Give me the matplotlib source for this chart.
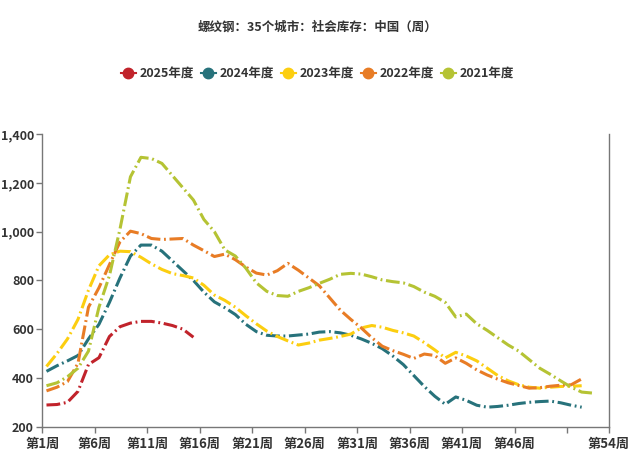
import matplotlib.pyplot as plt
import numpy as np

plt.rcParams['font.family'] = ['Noto Sans CJK SC', 'DejaVu Sans']

title = "螺纹钢：35个城市：社会库存：中国（周）"
series_names = ["2025年度", "2024年度", "2023年度", "2022年度", "2021年度"]
colors = ["#C1232B", "#27727B", "#FCCE10", "#E87C25", "#B5C334"]

# weekly values (week 1 onwards)
y2025 = [289, 291, 300, 345, 455, 483, 570, 610, 625, 632, 632, 625, 615, 600, 567]
y2024 = [427, 450, 470, 492, 560, 620, 710, 810, 900, 945, 945, 920, 880, 840, 800,
         752, 712, 688, 660, 620, 590, 575, 572, 572, 576, 580, 588, 590, 585, 575,
         560, 542, 520, 490, 455, 410, 365, 325, 292, 322, 308, 288, 280, 283, 288,
         295, 300, 303, 305, 298, 288, 280]
y2023 = [447, 500, 560, 640, 760, 860, 905, 920, 918, 895, 868, 845, 828, 820, 810,
         780, 740, 718, 690, 655, 622, 592, 570, 552, 535, 543, 555, 562, 570, 580,
         605, 615, 608, 595, 585, 572, 545, 515, 482, 505, 490, 470, 440, 410, 388,
         372, 362, 358, 362, 365, 366, 368]
y2022 = [347, 362, 385, 460, 690, 770, 865, 958, 1002, 992, 972, 968, 970, 972, 945,
         922, 898, 908, 885, 855, 830, 822, 840, 870, 842, 810, 778, 728, 678, 640,
         605, 565, 530, 512, 497, 480, 498, 492, 460, 482, 460, 433, 412, 395, 380,
         369, 358, 360, 366, 370, 372, 396]
y2021 = [368, 380, 405, 440, 510, 690, 820, 1010, 1225, 1305, 1300, 1280, 1230, 1180, 1130,
         1050, 1000, 925, 900, 850, 790, 755, 738, 735, 755, 770, 788, 805, 825, 829,
         826, 815, 802, 795, 790, 775, 752, 735, 710, 650, 662, 622, 595, 565, 535,
         510, 475, 440, 415, 388, 362, 342, 338]

tick_weeks = [1, 6, 11, 16, 21, 26, 31, 36, 41, 46, 51]
tick_labels = ["第1周", "第6周", "第11周", "第16周", "第21周", "第26周",
               "第31周", "第36周", "第41周", "第46周", ""]

fig = plt.figure(figsize=(6.35, 4.59), dpi=100)
ax = fig.add_axes([0.0666, 0.0704, 0.8924, 0.6373])

all_series = [y2025, y2024, y2023, y2022, y2021]
for name, vals, c in zip(series_names, all_series, colors):
    weeks = np.arange(1, len(vals) + 1)
    ax.plot(weeks, vals, color=c, lw=2.2, linestyle=(0, (4.5, 1.2, 0.6, 1.2)),
            label=name)

ax.set_xlim(0.6, 54.6)
ax.set_ylim(200, 1400)
ax.set_xticks([w - 0.4 for w in tick_weeks] + [54.6])
ax.set_xticklabels(tick_labels + ["第54周"])
ax.set_yticks(range(200, 1401, 200))
ax.set_yticklabels([f"{v:,}" for v in range(200, 1401, 200)])

for s in ["left", "right", "bottom"]:
    ax.spines[s].set_color("#777777")
    ax.spines[s].set_linewidth(1)
ax.spines["top"].set_visible(False)
ax.tick_params(colors="#777777", length=4, width=1)
ax.tick_params(axis="y", pad=2)
for lab in ax.get_xticklabels():
    lab.set_color("#333333")
    lab.set_fontsize(9.5)
    lab.set_fontweight("bold")
for lab in ax.get_yticklabels():
    lab.set_color("#333333")
    lab.set_fontsize(9)
    lab.set_fontweight("bold")

fig.text(0.5, 1 - 27 / 459, title, ha="center", va="center", fontsize=9,
         fontweight="bold", color="#333333")

handles = [plt.Line2D([0], [0], color=c, lw=1.5, marker="o", markersize=7.5)
           for c in colors]
leg = fig.legend(handles, series_names, loc="center", bbox_to_anchor=(0.5, 1 - 74 / 459),
                 ncol=5, frameon=False, handlelength=1.2, handletextpad=0.3,
                 columnspacing=0.55, prop={"size": 9, "weight": "bold"})
for t in leg.get_texts():
    t.set_color("#333333")

fig.savefig("out.png", dpi=100)
